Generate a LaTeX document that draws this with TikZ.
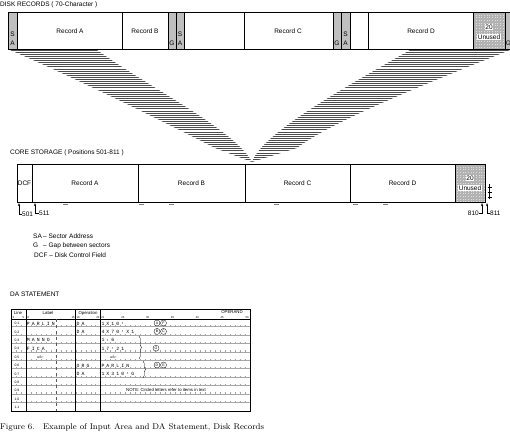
\documentclass[tikz,border=0pt]{standalone}
\usepackage{fontspec}
\newfontfamily\figfont{Liberation Sans}
\newfontfamily\formfont{Liberation Mono}
\usetikzlibrary{positioning,calc,arrows.meta,decorations.pathreplacing}

\begin{document}
\begin{tikzpicture}[x=1pt,y=-1pt,
    txt/.style={inner sep=0pt, font=\figfont\fontsize{6.5}{7}\selectfont},
    title/.style={txt, anchor=west},
    head/.style={inner sep=0pt, font=\figfont\fontsize{4.3}{5}\selectfont},
    colnum/.style={inner sep=0pt, font=\figfont\fontsize{2.8}{3}\selectfont},
    hand/.style={inner sep=0pt, font=\formfont\fontsize{4.8}{5}\selectfont},
    gapcell/.style={fill=gray!50},
    unusedcell/.style={fill=gray!25},
    hatch/.style={gray!60!black, line width=0.7pt},
    rowline/.style={gray!70, line width=0.3pt},
    coltick/.style={gray!70, line width=1.4pt, dash pattern=on 0.3pt off 4.67pt},
    circ/.style={circle, draw, line width=0.3pt, inner sep=0pt, minimum size=6pt,
        font=\figfont\fontsize{3.6}{4}\selectfont},
    arr/.style={-{Stealth[length=3pt,width=2pt]}, line width=0.4pt}
]
\useasboundingbox (0,0) rectangle (510,439);

% disk records
\node[title] (disktitle) at (0,5) {DISK RECORDS ( 70-Character )};
\foreach \xa/\xb in {8/17,168/176,176/184,333/341,341/350,505/512}
    \fill[gapcell] (\xa,12) rectangle (\xb,49);
\fill[unusedcell] (473,12) rectangle (505,49);
\draw[gray!60, line width=0.2pt, step=1.6pt] (473,12) grid (505,49);
\draw (8,12) -- (510,12) (8,49) -- (510,49);
\foreach \x in {8,17,122,168,176,184,244,333,341,350,368,473,505}
    \draw (\x,12) -- (\x,49);
\node[txt] (drecA) at (70,31) {Record A};
\node[txt] (drecB) at (145,31) {Record B};
\node[txt] (drecC) at (288,31) {Record C};
\node[txt] (drecD) at (421,31) {Record D};
\node[txt, fill=white, inner sep=0.6pt] (dfree) at (489,27) {20};
\node[txt, fill=white, inner sep=0.6pt] (dunused) at (489,37) {Unused};
\node[txt] (saS1) at (12.5,34) {S};
\node[txt] (saA1) at (12.5,43) {A};
\node[txt] (gap1) at (172,43) {G};
\node[txt] (saS2) at (180,34) {S};
\node[txt] (saA2) at (180,43) {A};
\node[txt] (gap2) at (337,43) {G};
\node[txt] (saS3) at (345.5,34) {S};
\node[txt] (saA3) at (345.5,43) {A};
\node[txt] (gap3) at (508.5,43) {G};

% hatched bands
\begin{scope}
    \clip (10,50) -- (97,50) .. controls (150,88) and (235,130) .. (252,162)
        -- (215,148) .. controls (170,125) and (80,80) .. (10,50) -- cycle;
    \foreach \y in {50,52.1,...,165} \draw[hatch] (0,\y) -- (510,\y);
\end{scope}
\begin{scope}
    \clip (410,50) -- (510,50) .. controls (430,82) and (330,122) .. (297,148)
        -- (252,162) .. controls (262,132) and (355,82) .. (410,50) -- cycle;
    \foreach \y in {50,52.1,...,165} \draw[hatch] (0,\y) -- (510,\y);
\end{scope}

% core storage
\node[title] (coretitle) at (10,153) {CORE STORAGE ( Positions 501-811 )};
\fill[unusedcell] (455,164) rectangle (485,202);
\draw[gray!60, line width=0.2pt, step=1.6pt] (455,164) grid (485,202);
\draw (17,164) rectangle (485,202);
\foreach \x in {32,138,245,350,455} \draw (\x,164) -- (\x,202);
\node[txt] (dcf) at (24.5,183) {DCF};
\node[txt] (crecA) at (85,183) {Record A};
\node[txt] (crecB) at (191.5,183) {Record B};
\node[txt] (crecC) at (297.5,183) {Record C};
\node[txt] (crecD) at (402.5,183) {Record D};
\node[txt, fill=white, inner sep=0.6pt] (cfree) at (470,178) {20};
\node[txt, fill=white, inner sep=0.6pt] (cunused) at (470,188) {Unused};
\foreach \x in {63,139,169,274,353,383} \draw[gray, line width=0.5pt] (\x,204.5) -- ++(5,0);
\draw[line width=0.4pt] (489.5,184) -- (489.5,199);
\foreach \y in {187,192,197} \draw[line width=0.4pt] (487.5,\y) -- (491.5,\y);

\coordinate (c501) at (19,203);
\coordinate (c511) at (35,203);
\coordinate (c810) at (482,203);
\coordinate (c811) at (487,203);
\node[txt, anchor=west] (l501) at (22,214) {501};
\node[txt, anchor=west] (l511) at (39,213) {511};
\node[txt, anchor=east] (l810) at (479,213) {810};
\node[txt, anchor=west] (l811) at (490,213) {811};
\draw[arr] (l501.west) -| (c501);
\draw[arr] (l511.west) -| (c511);
\draw[arr] (l810.east) -| (c810);
\draw[arr] (l811.west) -| (c811);

% legend
\node[title] (legsa) at (33,236) {\makebox[10pt][l]{SA}\textendash\ Sector Address};
\node[title] (leggap) at (33,245.5) {\makebox[10pt][l]{G}\textendash\ Gap between sectors};
\node[title] (legdcf) at (34,255) {DCF \textendash\ Disk Control Field};

% DA statement form
\node[title] (datitle) at (10,294) {DA STATEMENT};
\foreach \i in {1,...,10} {
    \pgfmathsetmacro{\yr}{326.6+8.4*(\i-1)}
    \draw[rowline] (11,\yr) -- (250,\yr);
    \draw[coltick] (11,\yr-0.8) -- (250,\yr-0.8);
}
\draw[line width=0.5pt] (11,309) rectangle (250,411);
\draw[line width=0.5pt] (11,319) -- (250,319);
\foreach \x in {25.9,75.7,100.5} \draw[line width=0.5pt] (\x,309) -- (\x,411);
\draw[gray!70!black, line width=0.3pt, dashed] (55.7,319) -- (55.7,411);
\node[head] (hline) at (18,313) {Line};
\node[head] (hlabel) at (48,313) {Label};
\node[head] (hop) at (88,313) {Operation};
\node[head] (hoperand) at (232,312.5) {OPERAND};
\foreach \k in {3,5,6,15,16,20,21,25,30,35,40,45,50}
    \node[colnum] (n\k) at ({11+(\k-2.5)*4.97},317.3) {\k};
\foreach \n [count=\i] in {0.1,0.2,0.3,0.4,0.5,0.6,0.7,0.8,0.9,1.0,1.1}
    \node[colnum, font=\figfont\fontsize{3.4}{4}\selectfont] (ln\i) at (17,{323.5+8.4*(\i-1)}) {\n};

% row 0.1
\foreach \ch [count=\k from 6] in {P,A,R,L,I,N}
    \node[hand] (ra\k) at ({11+(\k-2.5)*4.97},323.5) {\ch};
\foreach \ch [count=\k from 16] in {D,A}
    \node[hand] (rb\k) at ({11+(\k-2.5)*4.97},323.5) {\ch};
\foreach \ch [count=\k from 21] in {1,X,1,0,{,}}
    \node[hand] (rc\k) at ({11+(\k-2.5)*4.97},323.5) {\ch};
% row 0.2
\foreach \ch [count=\k from 16] in {D,A}
    \node[hand] (rd\k) at ({11+(\k-2.5)*4.97},331.9) {\ch};
\foreach \ch [count=\k from 21] in {4,X,7,0,{,},X,1}
    \node[hand] (re\k) at ({11+(\k-2.5)*4.97},331.9) {\ch};
% row 0.3
\foreach \ch [count=\k from 6] in {M,A,N,N,O}
    \node[hand] (rf\k) at ({11+(\k-2.5)*4.97},340.3) {\ch};
\foreach \ch [count=\k from 21] in {1,{,},6}
    \node[hand] (rg\k) at ({11+(\k-2.5)*4.97},340.3) {\ch};
% row 0.4
\foreach \ch [count=\k from 6] in {F,I,C,A}
    \node[hand] (rh\k) at ({11+(\k-2.5)*4.97},348.7) {\ch};
\foreach \ch [count=\k from 21] in {1,7,{,},2,1}
    \node[hand] (ri\k) at ({11+(\k-2.5)*4.97},348.7) {\ch};
% row 0.5
\node[head, font=\itshape\fontsize{4.2}{5}\selectfont] (rjabc) at (40,356.6) {abc};
\node[head, font=\itshape\fontsize{4.2}{5}\selectfont] (rkabc) at (113,356.6) {abc};
% row 0.6
\foreach \ch [count=\k from 16] in {O,R,G}
    \node[hand] (rl\k) at ({11+(\k-2.5)*4.97},365.5) {\ch};
\foreach \ch [count=\k from 21] in {P,A,R,L,I,N}
    \node[hand] (rm\k) at ({11+(\k-2.5)*4.97},365.5) {\ch};
% row 0.7
\foreach \ch [count=\k from 16] in {D,A}
    \node[hand] (rn\k) at ({11+(\k-2.5)*4.97},373.9) {\ch};
\foreach \ch [count=\k from 21] in {1,X,3,1,0,{,},G}
    \node[hand] (ro\k) at ({11+(\k-2.5)*4.97},373.9) {\ch};

\node[circ] (cA) at (157,323) {A};
\node[circ] (cF) at (163.5,323) {F};
\node[circ] (cB) at (157,331.4) {B};
\node[circ] (cC) at (163.5,331.4) {C};
\node[circ] (cG) at (156,348.2) {G};
\node[circ] (cD) at (157,365) {D};
\node[circ] (cE) at (163.5,365) {E};
\draw[line width=0.4pt, decorate, decoration={brace, amplitude=2.5pt}] (139,336) -- (139,359);
\draw[line width=0.4pt, decorate, decoration={brace, amplitude=2.5pt}] (143,361) -- (143,378);
\node[head] (note) at (166,390.2) {NOTE: Circled letters refer to items in text};

\node[anchor=west, inner sep=0pt, font=\fontsize{8.3}{10}\selectfont] (caption) at (0,427)
    {Figure 6.\quad Example of Input Area and DA Statement, Disk Records};
\end{tikzpicture}
\end{document}
